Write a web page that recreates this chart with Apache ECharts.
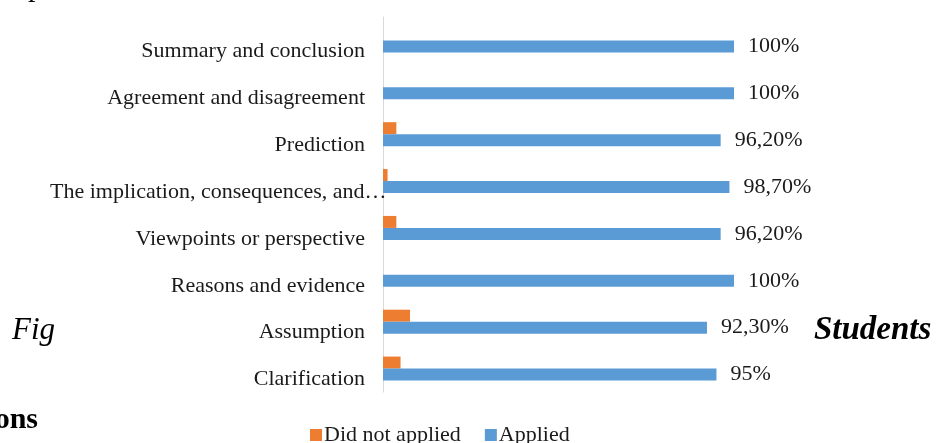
<!DOCTYPE html>
<html>
<head>
<meta charset="utf-8">
<script src="https://cdn.jsdelivr.net/npm/echarts@6/dist/echarts.min.js"></script>
<style>
html,body{margin:0;padding:0;background:#fff;}
#chart{width:938px;height:443px;}
</style>
</head>
<body>
<div id="chart"></div>
<script>
var categories = ['Clarification', 'Assumption', 'Reasons and evidence', 'Viewpoints or perspective',
  'The implication, consequences, and\u2026', 'Prediction', 'Agreement and disagreement', 'Summary and conclusion'];
var appliedValues = [95, 92.3, 100, 96.2, 98.7, 96.2, 100, 100];
var notAppliedValues = [5, 7.7, 0, 3.8, 1.3, 3.8, 0, 0];
var appliedLabels = ['95%', '92,30%', '100%', '96,20%', '98,70%', '96,20%', '100%', '100%'];
var seriesNames = ['Did not applied', 'Applied'];

var serif = '"Liberation Serif", "Times New Roman", serif';
var chart = echarts.init(document.getElementById('chart'), null, {renderer: 'canvas'});
chart.setOption({
  backgroundColor: '#ffffff',
  animation: false,
  grid: {left: 383, top: 17, right: 204, bottom: 51, containLabel: false},
  xAxis: {
    type: 'value', min: 0, max: 100, show: false
  },
  yAxis: {
    type: 'category',
    data: categories,
    axisLine: {lineStyle: {color: '#D9D9D9', width: 1}},
    axisTick: {show: false},
    axisLabel: {
      color: '#1a1a1a', fontFamily: serif, fontSize: 22, margin: 18,
      verticalAlign: 'top',
      formatter: function (v) {
        return v.charAt(v.length - 1) === '\u2026' ? '{e|' + v + '}' : v;
      },
      rich: {
        e: {width: 315, align: 'left', color: '#1a1a1a', fontFamily: serif, fontSize: 22, verticalAlign: 'top'}
      }
    }
  },
  legend: {
    data: seriesNames,
    left: 305, top: 419,
    icon: 'rect', itemWidth: 12, itemHeight: 12, itemGap: 24,
    textStyle: {color: '#1a1a1a', fontFamily: serif, fontSize: 22, padding: [0, 0, 0, -3]}
  },
  series: [
    {
      name: seriesNames[0], type: 'bar', data: notAppliedValues,
      barWidth: 12, barGap: '0%',
      itemStyle: {color: '#ED7D31'}
    },
    {
      name: seriesNames[1], type: 'bar', data: appliedValues,
      barWidth: 12, barGap: '0%',
      itemStyle: {color: '#5B9BD5'},
      label: {
        show: true, position: 'right', distance: 14,
        color: '#1a1a1a', fontFamily: serif, fontSize: 22,
        formatter: function (p) { return appliedLabels[p.dataIndex]; }
      }
    }
  ],
  graphic: [
    {type: 'text', left: 28, top: -27, style: {text: 'p', font: '30px "Liberation Serif", serif', fill: '#000'}},
    {type: 'text', left: 12, top: 315, style: {text: 'Fig', font: 'italic 31px "Liberation Serif", serif', fill: '#000'}},
    {type: 'text', left: 814, top: 314, style: {text: 'Students', font: 'bold italic 33px "Liberation Serif", serif', fill: '#000'}},
    {type: 'text', right: 900, top: 405, style: {text: 'ons', font: 'bold 30px "Liberation Serif", serif', fill: '#000'}}
  ]
});
</script>
</body>
</html>
